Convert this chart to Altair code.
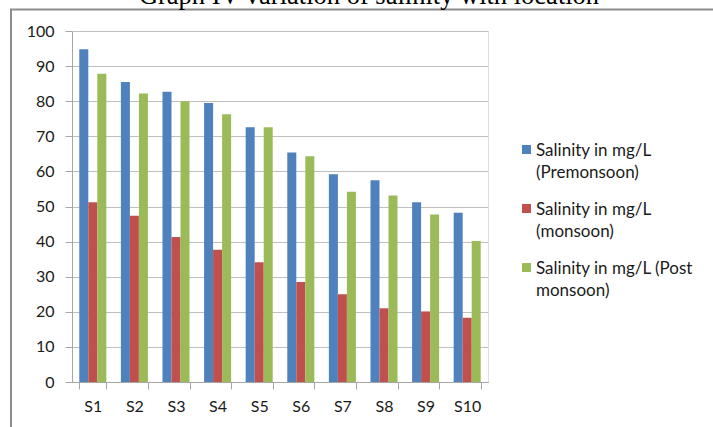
import altair as alt
import pandas as pd

sites = ["S1", "S2", "S3", "S4", "S5", "S6", "S7", "S8", "S9", "S10"]
premonsoon = [94.8, 85.5, 82.7, 79.5, 72.6, 65.4, 59.2, 57.5, 51.2, 48.2]
monsoon = [51.2, 47.4, 41.3, 37.7, 34.1, 28.5, 25.0, 21.0, 20.1, 18.3]
postmonsoon = [87.8, 82.2, 80.0, 76.3, 72.6, 64.3, 54.2, 53.1, 47.7, 40.2]
series = [
    "Salinity in mg/L (Premonsoon)",
    "Salinity in mg/L (monsoon)",
    "Salinity in mg/L (Post monsoon)",
]
colors = ["#4F81BD", "#C0504D", "#9BBB59"]
y_ticks = list(range(0, 101, 10))
title_text = "Graph IV variation of salinity with location"

rows = []
for name, vals in zip(series, [premonsoon, monsoon, postmonsoon]):
    for s, v in zip(sites, vals):
        rows.append({"site": s, "series": name, "value": v})
df = pd.DataFrame(rows)

FONT = "Lato"
AXIS_GRAY = "#A6A6A6"
GRID_GRAY = "#BFBFBF"
TEXT = "#1A1A1A"

label_expr = (
    "datum.label == 'Salinity in mg/L (Post monsoon)' ? "
    "['Salinity in mg/L (Post', 'monsoon)'] : "
    "[slice(datum.label, 0, 16), slice(datum.label, 17)]"
)

# square symbol drawn a little lower so it sits beside the first label line
SYMBOL_PATH = "M-1,0.55L1,0.55L1,2.55L-1,2.55Z"

bars = alt.Chart(df).mark_bar().encode(
    x=alt.X(
        "site:N",
        sort=sites,
        scale=alt.Scale(paddingInner=0.35, paddingOuter=0.175),
        axis=alt.Axis(
            title=None,
            labelAngle=0,
            tickBand="extent",
            grid=False,
            domainColor=AXIS_GRAY,
            tickColor=AXIS_GRAY,
            tickSize=7,
            labelPadding=9,
            labelFont=FONT,
            labelFontSize=16,
            labelColor=TEXT,
        ),
    ),
    xOffset=alt.XOffset(
        "series:N", sort=series, scale=alt.Scale(paddingInner=0, paddingOuter=0)
    ),
    y=alt.Y(
        "value:Q",
        scale=alt.Scale(domain=[0, 100]),
        axis=alt.Axis(
            title=None,
            values=y_ticks,
            grid=True,
            gridColor=GRID_GRAY,
            domainColor=AXIS_GRAY,
            tickColor=AXIS_GRAY,
            tickSize=7,
            labelPadding=11,
            labelFont=FONT,
            labelFontSize=16,
            labelColor=TEXT,
        ),
    ),
    color=alt.Color(
        "series:N",
        sort=series,
        scale=alt.Scale(domain=series, range=colors),
        legend=alt.Legend(
            title=None,
            orient="none",
            legendX=446,
            legendY=103,
            symbolType=SYMBOL_PATH,
            symbolSize=81,
            symbolStrokeWidth=0,
            labelFont=FONT,
            labelFontSize=17,
            labelColor=TEXT,
            labelExpr=label_expr,
            labelBaseline="top",
            labelOffset=1,
            rowPadding=12,
            labelLimit=300,
        ),
    ),
)

single = alt.Data(values=[{"f": 1}])
frame_left = alt.Chart(single).mark_rule(color="#8C8C8C", strokeWidth=2).encode(
    x=alt.value(-61), y=alt.value(-21.5), y2=alt.value(420)
)
frame_top = alt.Chart(single).mark_rule(color="#8C8C8C", strokeWidth=2).encode(
    x=alt.value(-62), x2=alt.value(700), y=alt.value(-21.5)
)
title = alt.Chart(single).mark_text(
    font="Liberation Serif",
    fontSize=26.5,
    color="#000000",
    align="center",
    baseline="alphabetic",
).encode(x=alt.value(297), y=alt.value(-27.5), text=alt.value(title_text))

chart = (
    alt.layer(bars, frame_left, frame_top, title)
    .properties(
        width=416,
        height=351,
        padding={"left": 72, "top": 31, "right": 225, "bottom": 45},
        autosize=alt.AutoSizeParams(type="none"),
    )
    .configure_view(stroke="transparent")
    .configure(background="white", style={"guide-label": {"lineHeight": 22}})
)

chart.save("out.html", embed_options={"renderer": "svg", "actions": False})
